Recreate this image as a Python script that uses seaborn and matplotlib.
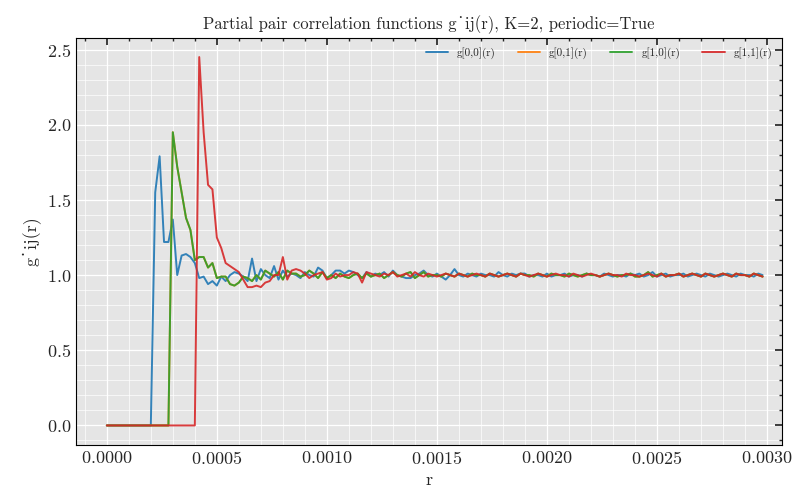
import numpy as np
import pandas as pd
import seaborn as sns
import matplotlib
matplotlib.use("Agg")
import matplotlib.pyplot as plt
from matplotlib.ticker import AutoMinorLocator

N = 150
r = [i * 0.00002 for i in range(N)]
tail = [1.00, 0.99, 1.01, 1.00, 1.01, 0.99, 1.00, 1.02, 0.99, 1.00, 1.01, 0.99, 1.00, 1.00, 1.01, 0.99,
        1.00, 1.01, 1.00, 0.99, 1.01, 1.00, 0.99, 1.00, 1.01, 1.00, 0.99, 1.01, 1.00, 1.00, 0.99, 1.01,
        1.00, 0.99, 1.00, 1.01, 1.00, 0.99, 1.01, 1.00, 1.00, 0.99, 1.01, 1.00, 0.99, 1.00, 1.01, 0.98]
g00 = ([0.0]*11 + [1.55, 1.79, 1.22, 1.22, 1.37, 1.00, 1.13, 1.14, 1.12, 1.08, 0.98, 0.99, 0.94, 0.96, 0.93, 0.99,
       0.96, 1.00, 1.02, 1.01, 0.99, 0.96, 1.11, 0.96, 1.04, 1.00, 0.98, 1.06, 0.97, 1.03, 0.99, 1.01, 1.00, 0.98,
       1.02, 1.00, 0.99, 1.05, 1.03, 0.98, 1.00, 1.03, 1.03, 1.01, 1.03, 1.02, 1.00, 0.98, 1.02, 0.99, 1.01, 1.00,
       1.02, 0.99, 1.03, 1.00, 0.99, 0.98, 0.98, 1.00, 1.01, 1.03, 1.00, 0.99, 1.01, 0.99, 0.97, 1.00, 1.04, 1.00,
       0.99, 1.01, 1.00, 0.99, 1.01, 1.00, 1.00, 0.99, 1.02, 1.00, 0.99, 1.01, 1.00, 1.01, 1.01, 0.99, 1.00, 1.00,
       0.99, 1.01, 0.99, 1.00, 1.00, 1.01, 0.99, 1.00, 1.00, 0.99, 1.01, 1.00, 1.00, 0.99, 1.01, 1.00, 0.99, 1.00]
       + tail)[:N]
g01 = ([0.0]*15 + [1.95, 1.72, 1.55, 1.38, 1.30, 1.10, 1.12, 1.12, 1.05, 1.08, 0.98, 0.99, 0.99, 0.94, 0.93, 0.95,
       0.99, 0.98, 0.96, 1.00, 0.97, 1.03, 1.01, 0.99, 1.02, 0.97, 1.03, 1.01, 1.01, 0.99, 1.00, 1.03, 1.01, 0.98,
       1.02, 0.98, 1.00, 0.98, 1.01, 0.99, 0.98, 1.00, 1.01, 0.98, 1.01, 0.99, 1.00, 1.01, 0.98, 1.00, 1.02, 1.00,
       0.99, 1.01, 1.02, 0.98, 1.00, 1.02, 0.99, 1.00, 1.00, 0.99, 1.01, 1.00, 0.99, 1.01, 1.00, 0.99, 1.01, 1.00,
       1.00, 0.99, 1.01, 1.00, 0.99, 1.00, 1.01, 1.00, 0.99, 1.01, 1.00, 1.00, 0.99, 1.01, 1.00, 0.99, 1.01, 1.00,
       1.00, 0.99, 1.01, 1.00, 0.99, 1.00, 1.01, 1.00, 1.00, 0.99, 1.00, 1.01, 1.00, 0.99, 1.00, 1.00, 1.01, 0.99]
       + tail[5:] + tail)[:N]
g10 = list(g01)
g11 = ([0.0]*21 + [2.45, 1.95, 1.60, 1.57, 1.25, 1.18, 1.08, 1.06, 1.04, 1.02, 0.97, 0.92, 0.92, 0.93, 0.92,
       0.95, 0.96, 1.00, 1.00, 1.12, 0.97, 1.03, 1.04, 1.03, 1.01, 0.98, 1.00, 1.01, 1.02, 0.97, 0.98, 1.01, 0.99,
       1.00, 1.00, 1.02, 1.01, 0.95, 1.02, 1.01, 1.00, 0.99, 1.01, 1.00, 1.02, 0.99, 1.00, 1.01, 0.99, 1.02, 1.00,
       0.99, 1.01, 1.00, 0.99, 1.00, 1.01, 1.00, 0.99, 1.01, 1.00, 0.99, 1.00, 1.01, 1.00, 0.99, 1.01, 1.00, 0.99,
       1.00, 1.01, 1.00, 0.99, 1.01, 1.00, 0.99, 1.00, 1.01, 1.00, 0.99, 1.00, 1.01, 1.00, 1.00, 0.99, 1.01, 1.00,
       0.99, 1.00, 1.01, 1.00, 0.99, 1.00, 1.01, 1.00, 1.00, 0.99, 1.01, 1.00, 1.00, 0.99, 1.00, 1.01, 1.00, 0.99]
       + tail[10:] + tail)[:N]
labels = ["g[0,0](r)", "g[0,1](r)", "g[1,0](r)", "g[1,1](r)"]

sns.set_theme(style="darkgrid", rc={"axes.facecolor": "#e5e5e5", "grid.color": "white"})
plt.rcParams["font.family"] = ["serif"]
plt.rcParams["font.serif"] = ["cmr10", "DejaVu Serif"]
plt.rcParams["mathtext.fontset"] = "cm"
plt.rcParams["axes.formatter.use_mathtext"] = True

rows = []
for lab, vals in zip(labels, [g00, g01, g10, g11]):
    for x, y in zip(r, vals):
        rows.append((x, y, lab))
df = pd.DataFrame(rows, columns=["r", "g", "pair"])

fig, ax = plt.subplots(figsize=(8, 5), dpi=100)
sns.lineplot(data=df, x="r", y="g", hue="pair", palette=["#1f77b4", "#ff7f0e", "#2ca02c", "#d62728"],
             ax=ax, linewidth=1.4, alpha=0.9)
ax.xaxis.set_minor_locator(AutoMinorLocator())
ax.yaxis.set_minor_locator(AutoMinorLocator())
ax.grid(which="major", color="white", linewidth=0.9)
ax.grid(which="minor", color="white", linewidth=0.6, alpha=0.8)
ax.tick_params(which="both", direction="in", top=True, right=True, labelsize=13)
ax.tick_params(which="major", length=5)
ax.tick_params(which="minor", length=2.5)
for s in ax.spines.values():
    s.set_visible(True); s.set_color("black"); s.set_linewidth(0.8)
ax.set_xlabel("r", fontsize=13)
ax.set_ylabel("g˙ij(r)", fontsize=13, family=["cmr10", "DejaVu Serif"])
ax.set_title("Partial pair correlation functions g˙ij(r), K=2, periodic=True", fontsize=12,
             family=["cmr10", "DejaVu Serif"])
ax.set_xlim(-0.00014, 0.00307)
ax.set_ylim(-0.13, 2.58)
ax.legend(ncol=4, fontsize=8, frameon=False, loc="upper right", title=None)
fig.subplots_adjust(left=0.095, right=0.978, top=0.925, bottom=0.11)
fig.savefig("out.png", dpi=100)
